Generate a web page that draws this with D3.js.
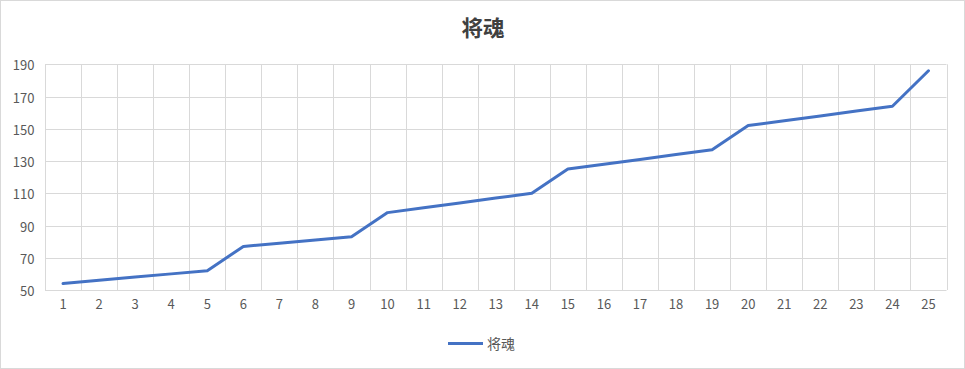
<!DOCTYPE html>
<html><head><meta charset="utf-8">
<script src="https://cdn.jsdelivr.net/npm/d3@7"></script>
<style>body{margin:0;background:#fff}svg{display:block}</style>
</head><body>
<script>
const title = "将魂";
const seriesName = "将魂";
const categories = ["1","2","3","4","5","6","7","8","9","10","11","12","13","14","15","16","17","18","19","20","21","22","23","24","25"];
const values = [54,56,58,60,62,77,79,81,83,98,101,104,107,110,125,128,131,134,137,152,155,158,161,164,186];
const yTicks = [50,70,90,110,130,150,170,190];

const W = 965, H = 369;
const m = {left:45, right:18.5, top:64.3, bottom:79};
const svg = d3.select("body").append("svg").attr("width", W).attr("height", H);
svg.append("rect").attr("x",0.5).attr("y",0.5).attr("width",W-1).attr("height",H-1)
  .attr("fill","#fff").attr("stroke","#d9d9d9");

const x = d3.scaleBand().domain(categories).range([m.left, W - m.right]);
const y = d3.scaleLinear().domain([50,190]).range([H - m.bottom, m.top]);
const font = "'Noto Sans CJK SC','Noto Sans',sans-serif";

// grid
const g = svg.append("g");
g.selectAll("line.h").data(yTicks).join("line")
  .attr("x1", m.left).attr("x2", W - m.right)
  .attr("y1", d => Math.round(y(d))+0.5).attr("y2", d => Math.round(y(d))+0.5)
  .attr("stroke","#d9d9d9");
const bounds = categories.map(c => x(c)).concat([x(categories[categories.length-1]) + x.bandwidth()]);
g.selectAll("line.v").data(bounds).join("line")
  .attr("x1", d => Math.round(d)+0.5).attr("x2", d => Math.round(d)+0.5)
  .attr("y1", m.top).attr("y2", H - m.bottom)
  .attr("stroke","#d9d9d9");

// y axis labels
const yAxis = d3.axisLeft(y).tickValues(yTicks).tickSize(0).tickPadding(10.5);
svg.append("g").attr("transform",`translate(${m.left},1.5)`).call(yAxis)
  .call(s => s.select(".domain").remove())
  .selectAll("text").attr("fill","#595959").style("font-family",font).style("font-size","13px");

// x axis labels
const xAxis = d3.axisBottom(x).tickSize(0).tickPadding(10);
svg.append("g").attr("transform",`translate(0,${H - m.bottom})`).call(xAxis)
  .call(s => s.select(".domain").remove())
  .selectAll("text").attr("fill","#595959").style("font-family",font).style("font-size","13px");

// line
const line = d3.line().x((d,i) => x(categories[i]) + x.bandwidth()/2).y(d => y(d));
svg.append("path").datum(values).attr("d", line).attr("fill","none")
  .attr("stroke","#4472C4").attr("stroke-width",3).attr("stroke-linejoin","round").attr("stroke-linecap","round");

// title
svg.append("text").attr("x", 483).attr("y", 36).attr("text-anchor","middle")
  .style("font-family",font).style("font-size","21.5px").style("font-weight","bold")
  .attr("fill","#404040").text(title);

// legend
svg.append("line").attr("x1",448).attr("x2",483).attr("y1",343.5).attr("y2",343.5)
  .attr("stroke","#4472C4").attr("stroke-width",3);
svg.append("text").attr("x",487).attr("y",349).style("font-family",font).style("font-size","14px")
  .attr("fill","#595959").text(seriesName);
</script>
</body></html>
